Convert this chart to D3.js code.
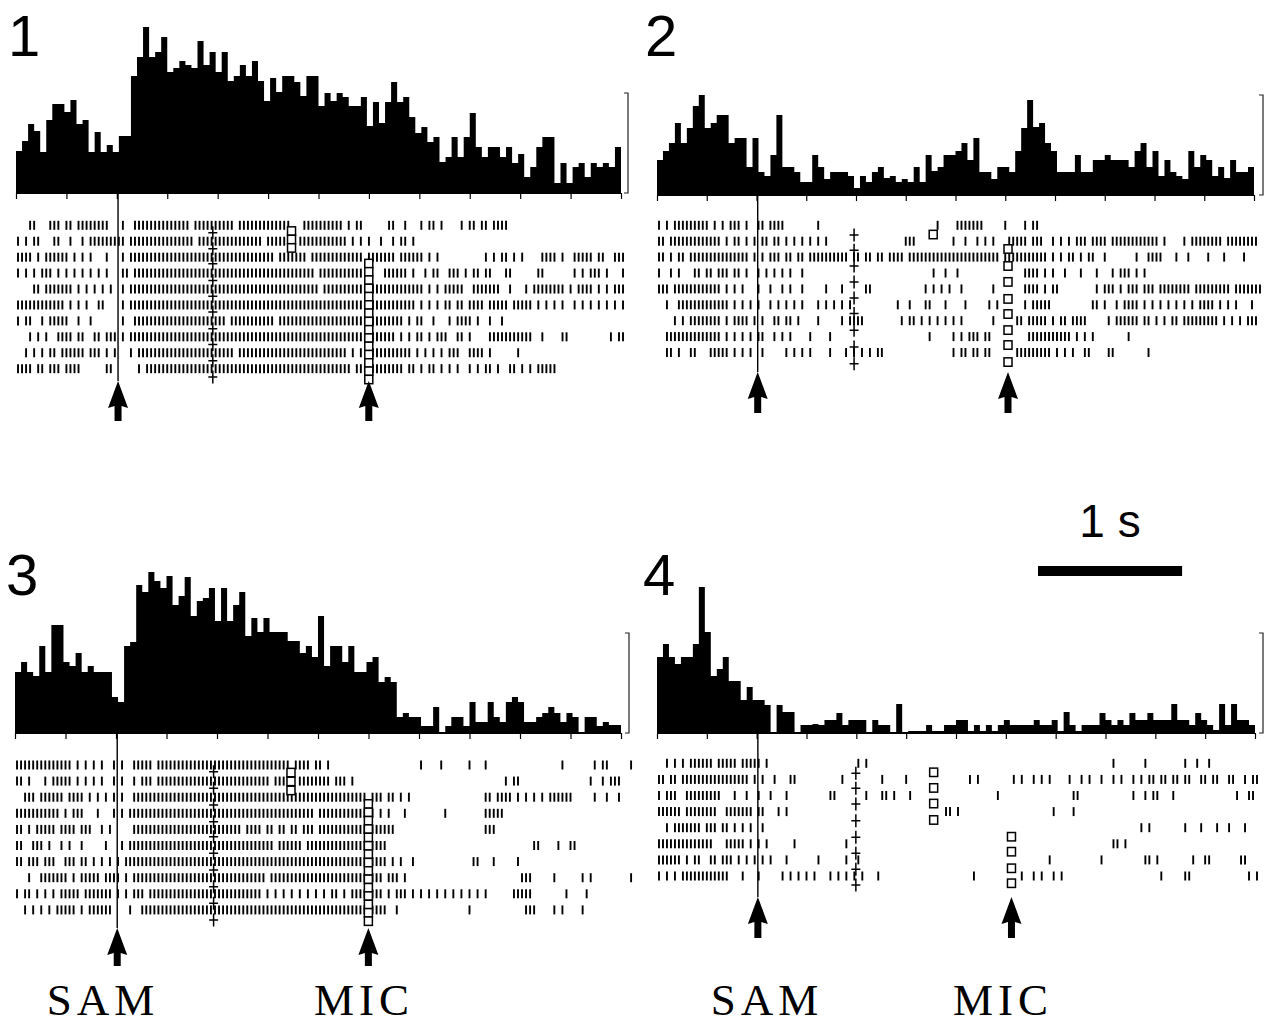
<!DOCTYPE html>
<html lang="en">
<head>
<meta charset="UTF-8">
<title>PSTH and raster, four conditions</title>
<script src="https://d3js.org/d3.v7.min.js"></script>
<style>
  body { margin: 0; background: #fff; }
  svg { display: block; background: #fff; }
  .num { font-family: "Liberation Sans", Arial, sans-serif; font-size: 58px; fill: #000; }
  .lbl { font-family: "Liberation Serif", "Times New Roman", serif; font-size: 45px; fill: #000; letter-spacing: 5px; }
  .scale-txt { font-family: "Liberation Sans", Arial, sans-serif; font-size: 46px; fill: #000; }
</style>
</head>
<body>
<svg id="chart" width="1264" height="1026"></svg>
<script>
// ---------- data ----------
var T = 4.15;          // seconds shown in each panel
var nBins = 100;       // histogram bins per panel
var nCells = 150;      // raster strings: one char per cell of T / nCells

// histogram heights (bracket = 100)
var psth1 = [42,52,69,62,41,73,89,89,81,93, 69,73,41,61,41,48,41,57,57,117,
  136,166,136,141,156,121,125,132,128,125, 152,128,141,121,141,112,117,128,117,132,
  112,92,115,101,117,117,111,97,117,117, 87,100,92,100,96,87,87,96,67,91,
  70,91,111,91,96,76,60,66,51,56, 31,36,56,36,56,80,46,36,46,46,
  36,46,30,39,16,26,46,56,56,10, 30,10,26,30,16,30,26,30,26,46];
var psth2 = [35,44,52,72,52,67,89,100,67,72, 80,80,52,57,57,28,57,23,19,40,
  80,28,28,23,13,13,40,28,16,23, 23,23,19,7,19,13,23,28,17,19,
  13,16,13,28,13,40,24,28,40,40, 44,52,35,57,23,23,16,28,28,23,
  44,67,95,68,72,52,44,23,23,23, 40,23,23,35,35,40,35,35,35,28,
  44,52,28,44,19,35,23,19,16,44, 28,40,35,19,28,17,35,23,23,28];
var psth3 = [61,71,61,57,87,61,108,108,71,67, 80,61,67,61,61,61,36,31,87,91,
  148,141,161,152,145,157,128,137,156,117, 132,135,145,112,145,112,128,141,97,115,
  101,115,101,101,101,92,92,80,87,76, 117,67,87,87,71,87,61,61,71,76,
  51,56,51,16,20,16,16,7,7,26, 1,7,16,16,7,31,11,11,31,16,
  11,31,36,31,11,11,16,20,26,20, 11,20,16,1,16,16,7,11,8,8];
var psth4 = [76,89,76,69,76,76,89,146,101,57, 64,76,52,52,33,46,33,33,28,1,
  28,21,21,1,8,8,9,8,13,13, 20,8,13,13,13,1,13,8,8,1,
  29,1,2,2,2,8,2,2,8,8, 13,13,2,8,2,8,2,8,13,8,
  8,8,8,13,8,8,13,2,21,8, 2,8,8,8,20,13,8,13,8,20,
  13,13,20,13,13,13,29,13,13,8, 20,13,8,3,29,8,29,13,13,8];

// event times (s): SAM onset, "+" marker, early and late square markers, MIC onset
var samTimes  = [0.70, 0.70, 0.70, 0.70];
var plusTimes = [1.35, 1.37, 1.36, 1.38];
var sqEarlyTimes = [1.89, 1.92, 1.89, 1.92];
var micTimes  = [2.42, 2.44, 2.42, 2.46];

// marker positions in trial units (row 0 = first trial)
var plus1 = [0.46,1.47,2.41,3.46,4.46,5.44,6.49,7.49,8.51,9.52];
var plus2 = [0.61,1.57,2.56,3.57,4.57,5.55,6.6,7.65,8.7];
var plus3 = [0.42,1.45,2.48,3.52,4.45,5.48,6.52,7.56,8.59,9.63];
var plus4 = [0.62,1.55,2.53,3.57,4.6,5.59,6.58,7.56];
var sqEarly1 = [0.36,0.89,1.42];
var sqEarly2 = [0.58];
var sqEarly3 = [0.47,1.02,1.58];
var sqEarly4 = [0.56,1.53,2.5,3.52];
var sqLate1 = [2.40,2.92,3.44,3.96,4.48,5.0,5.52,6.04,6.56,7.08,7.6,8.12,8.64,9.16,9.68];
var sqLate2 = [1.49,2.56,3.56,4.63,5.58,6.59,7.53,8.6];
var sqLate3 = [2.42,2.94,3.46,3.98,4.5,5.02,5.54,6.06,6.58,7.1,7.62,8.14,8.66,9.18,9.7];
var sqLate4 = [4.56,5.49,6.52,7.45];

// spike rasters, '|' = spike (groups of 10 cells for readability)
var raster1 = [
"...||...|| |.||.||||| |||...|..| |||||||||| |||.|||||| ||||.||||| ||||||||.. .||||||||| |.|.||.... ..||..|... |.||.|.... |.||.||.|| ||........",
"|.|.||...| |..|..|.|| |||||||.|| |||||||||| ||||.||||| |||||||||| |.||||||.. |||||||||| ||.|.|.|.. |..|.||.|.",
"||||.|.||| |||.|.|.|. ..|...|.|| |||||||||| |||||||||| |||||||||| ||||.||||| ||.||||||| ||||||.||| ||||.||||| |.|.|..... ......|.|. ||.|.|.... ||||.|..|| |||.||..|| |..",
"|.|.|.|||. |.|.|.|.|. |.|...||.| |||||||||| |||||||||| |||||||||| |||||||||| ||||.||||| ||||||.|.. .||||||.|. .|.||..||| .|.||.||.. .||......| |.......|. |.|||.|... |..",
"....||.||| ||||.|.|.| .|.|..|.|| |||||||||| |||||||||| |||||||||| |||||||||| |||||.|||| |||||||||| |||||||||| |.|.|.|||| |..||||||| ..|...|.|| ||||||.|.| |||.|.|.|| |..",
"|||||||||| ||.|.|.|.. ||....|.|| |||||||||| |||||||||| |||||||||| |||||||||| |||||||||| |||||||||| |||||||||. |.|.|.||.| |.||||.||| ||.|||||.| .|.|.|..|. |.|.|.|.|. |..",
"|.||..|.|| |||..|..|. ......|..| |||||||||| |||||||||| ||.||||||| ||||.||||| |||||||||| |||||||||| ||||||.|.| |..|...|.| |||.|..|.. |.........",
"...|.|.|.. ||||.||..| |.|||.|.|| |||||||||| |||||||||| |||||||||| |||||||||| |||||||||| |||||||||| ||||.|.|.| |.|.|||..| |.|....||| ||||||||.. |....||... .......|.| |..",
"..|.|.|.|| .||||||.|| |.|.|...|. |||||||||| |||||||||| ||||.||||| |||||||||| |||||||||| ||.|.|.||| ||||||||.| .|.|.|.||| ..||||.|.. ....|.....",
"||||.||.|| |.||||.... ..||...... |.|||||||| |||||||||| |||||||||| |||||||||| |||||||||| |||.|||||| ||||||.||. |.||.|.|.| ..|.|.||.| ..||.|.|.| ||||......"
];
var raster2 = [
"|.|.|||||| |||.|.|.|| |.|..||.|| ||........ |......... .......... .......... |....||||| ||.....|.. ..|.||....",
"||.||||||| ||||||.|.| |.|.|.||.| |.|.|.|.|. |.|....... .......... ..|||..... ....|..|.. |.|.|...|| |||.|||..| .|.|.|||.| |||.|||||| ||||||.|.. ..|.|||||| ||.||||||| |..",
"||.|.||.|| |||||||||| |||.|.|.|| |.||.||.|| ||||||||.| |.||.||.|| ||.||||||| |||||||||| ||||||.||| ||||||||.| .|.||.|.|| ..|....... |..||||... |..|....|. ..|....|..",
"|..|.|...| |.||.|||.| |.|..|.|.| .|.|..|... .......... .......... .........| ..|..|.... .......... ..||||.|.| ..|...|... |...|.|||. |.|.......",
"|||.|||||| ||||||.|.| .|...|..|. .|.|..|... ..|...|... ..||...... .......|.| .|.|..|... ....|..... ..||||.|.| |......... |.|||.|.|| |.|||.|||| ||||.||||| ||||.||||| ||.",
"..|..||||| ||||||||.| .|.|.|..|. |.|.|.|... |.|.|.|.|. .......... |..|...||. ..|....|.. ...|.|.... ..|.|||||. .........| |.|..|.||| |.|.|.|.|. |.|.|.|||| .|.|.|...|",
"....|.|.|| ||||||.|.| |||.|.|..| |.||.|.... |.....|.|| ||........ .|.||.|.|. |.|.|.|... ....|..... ||.|||||.| .||.||||.. ...|.||||| |.||.|.|.| |.|||||||| |.|.|.|.|| |..",
"..|||||||| ||||||.|.| .|.|.||..| .|.|....|. ...|...... .......... ........|. ....|.|.|| |.||...... ...||||||| ||||.|.|.| ........|.",
"..||.|..|| ...|||||.| .|.|..|... ..|.|.|.|. ...|...|.| .|.|.||... .......... ....|.||.| |.||...... |||||||||. |.|.|..||. ...||..... ...|......"
];
var raster3 = [
"|||||||||| ||||.|.|.| .|..|.|..| ||||.||||| |||||||||| |||||||||| ||||||||.| |||.||.|.. .......... .......... |....|.... ..|...|... .......... .....|.... ...|.||... ..|",
"||.|...|.| ||||.|.|.| .|..|.|..| .|||.||||| |||||||||| |||||||||| |||.|||||. ||||||||.| ||.|...... .......... .......... .......... .|.||..... .......... ..|..|.|||",
"..|||.|||| ||.||||.|. |.|.|.|..| |||||||||| |||||||||| |||||||||| |||||||||| |||||||||| |||||||.|| |.||.|.|.. .......... ......||.| |||.|.|.|. |.||||||.. ...|..|..|",
"|||||||||| |.|.|||... |...|.|.|| |||||||||| |||||||||| |||||||||| |||||||||| ||||.||||| |||||||||. |.|...|... ......|... ......|||| |.........",
"||.|.||||| .||||.|||. .|.|.....| |||||||||| |||||||||| ||||||.||| |.||.||.|| .|||.||||| |||||||||| ||||...... .......... ......|||.",
"||..|||.|. .|.|..|... ..|...|.|| |||||||||| |||||||||| |||||||||| ||||.||||| |.|||||||| |||||||||| ||........ .......... .......... ........|| ....|..||.",
"||.|||.||| ..|||.||.| .|.|.|.||| |||||||||| |||||||||| |||||||||| |||||||||| |||||||||| |||||||||| ||.|.|..|. .......... ...||...|. ....|.....",
"...|..|||| |||.|.|||| |.||||.|.| |||||||||| |||||||||| |||||||||| ||.||||||| |||||||||| |||||||||| |.|||.|... .......... .......... .....|||.. ...|...... |.|....... ..|",
"|.||.|.|.| .|||||.||| ||||.|.|.| ||.||||||| |||||||||| |||||||||| |.|.|.|.|. |.|.|.|.|| .|.||||||| |.|.|||.|. |.|.|.|.|. |.|.|.|... ...|||||.. ......|... .|........",
"..|.|.|.|. |||||.|.|| ||||....|. .||||||||| |||||||||| |||||||||| |||||||||| |||||||||| |||||||||| ||..|..... .......... ..|....... ......|||. ...|.|.... |........."
];
var raster4 = [
"..|.|.|.|| ||||.||||| .|||||.|.. .......... .......... |.|....... .......... .......... .......... .......... .......... ....|..... ..|....... ..|..|..|.",
"||.||.|||| |||||||||| |||.|.|..| ...||..... ......|... ......|... ..|....... ........|. |........| .|..|.|.|. ...|..|.|. .|..|.|..| .|.||.||.| |.||..||.| |..||..|.| |..",
"|.|||..||| ||||||...| ..|..|..|. ..|....... ...||..... ..|...||.| ...|...... .......... .....|.... .......... ....||.... .........| ..|.||...| .......... .....|..||",
"||||||.||| |||||..||| ||||.||... |.|....... .......... .......... .......... ..||.|.... .......... .........| ....|.....",
"..|.|||||| |.|||.||.| .|.|..|... .......... .......... .......... .......... .......... .......... .......... .......... .......... .|.|...... ..|...|... |..|...|..",
"|||||||||| ||||...||| ||.|.|.|.. ....|..... .......|.. .......... .......... .......... .......... .......... .......... ....||.|..",
"||||||.|.| |..||.|||. |.|.|.|.|. ..|....... |......|.. |......... .......... .......... .......... ........|. .......... .|........ ..||.|.... ....|..||. ......||..",
"|.|.|.|||| ||||||||.. .|...|.... .|.|.|.|.| ...|.|.|.| .|...|.... .......... .........| .......... .|..|.|..| .|........ .......... ......|... ..||...... ........|. |.."
];

// ---------- layout ----------
var panels = [
  {name: "1", psth: psth1, raster: raster1, plus: plus1, sqE: sqEarly1, sqL: sqLate1,
   x0: 16, x1: 621, base: 193, rowY0: 225.3, rowStep: 15.93, bracketX: 628,
   tipY: 381, botY: 421, numX: 8, numY: 56},
  {name: "2", psth: psth2, raster: raster2, plus: plus2, sqE: sqEarly2, sqL: sqLate2,
   x0: 657, x1: 1254, base: 195, rowY0: 225.3, rowStep: 15.9, bracketX: 1263,
   tipY: 372, botY: 413, numX: 645, numY: 56},
  {name: "3", psth: psth3, raster: raster3, plus: plus3, sqE: sqEarly3, sqL: sqLate3,
   x0: 15, x1: 621, base: 733, rowY0: 765, rowStep: 16.1, bracketX: 629,
   tipY: 928, botY: 966, numX: 6, numY: 595},
  {name: "4", psth: psth4, raster: raster4, plus: plus4, sqE: sqEarly4, sqL: sqLate4,
   x0: 657, x1: 1255, base: 733, rowY0: 763.3, rowStep: 16.1, bracketX: 1263,
   tipY: 897, botY: 938, numX: 643, numY: 595}
];

var svg = d3.select("#chart");
var tickTimes = d3.range(13).map(function(i) { return i * T / 12; });

panels.forEach(function(p, k) {
  var g = svg.append("g");
  var x = d3.scaleLinear().domain([0, T]).range([p.x0, p.x1]);
  var y = d3.scaleLinear().domain([0, 100]).range([p.base, p.base - 100]);
  var trial = d3.scaleLinear().domain([0, 1]).range([p.rowY0, p.rowY0 + p.rowStep]);
  var binW = T / nBins;

  // histogram as a filled step area
  var pts = p.psth.map(function(v, i) { return {t: i * binW, v: v}; });
  pts.push({t: T, v: p.psth[p.psth.length - 1]});
  var area = d3.area()
      .x(function(d) { return x(d.t); })
      .y0(y(0))
      .y1(function(d) { return y(d.v); })
      .curve(d3.curveStepAfter);
  g.append("path").datum(pts).attr("d", area).attr("fill", "#000");

  // time axis under the histogram
  var axis = g.append("g")
      .attr("transform", "translate(0," + p.base + ")")
      .call(d3.axisBottom(x).tickValues(tickTimes).tickSize(6).tickSizeOuter(0).tickFormat(""));
  axis.select(".domain").attr("stroke", "#000").attr("stroke-width", 1.2);
  axis.selectAll(".tick line").attr("stroke", "#000").attr("stroke-width", 1.2);

  // scale bracket on the right
  var bx = p.bracketX;
  g.append("path")
      .attr("d", "M" + (bx - 4) + "," + y(100) + "H" + bx + "V" + y(0) + "H" + (bx - 4))
      .attr("fill", "none").attr("stroke", "#222").attr("stroke-width", 1.2);

  // SAM onset line
  var sx = x(samTimes[k]);
  g.append("line")
      .attr("x1", sx).attr("x2", sx)
      .attr("y1", p.base).attr("y2", p.tipY)
      .attr("stroke", "#000").attr("stroke-width", 1.4);

  // raster ticks
  var cellDur = T / nCells;
  p.raster.forEach(function(row, r) {
    var cells = row.replace(/ /g, "");
    var spikes = [];
    for (var i = 0; i < cells.length; i++) {
      if (cells[i] === "|") spikes.push((i + 0.5) * cellDur);
    }
    g.selectAll(null).data(spikes).enter().append("line")
        .attr("x1", function(d) { return x(d); })
        .attr("x2", function(d) { return x(d); })
        .attr("y1", trial(r) - 4.5)
        .attr("y2", trial(r) + 4.5)
        .attr("stroke", "#000")
        .attr("stroke-width", 1.9);
  });

  // "+" markers
  var px = x(plusTimes[k]);
  g.selectAll(null).data(p.plus).enter().append("path")
      .attr("d", function(d) {
        var cy = trial(d);
        return "M" + (px - 4.5) + "," + cy + "H" + (px + 4.5) +
               "M" + px + "," + (cy - 6.5) + "V" + (cy + 6.5);
      })
      .attr("stroke", "#000").attr("stroke-width", 1.5).attr("fill", "none");

  // square markers
  function squares(list, t) {
    var cx = x(t);
    g.selectAll(null).data(list).enter().append("rect")
        .attr("x", cx - 4)
        .attr("y", function(d) { return trial(d) - 4.2; })
        .attr("width", 8)
        .attr("height", 8.4)
        .attr("fill", "#fff")
        .attr("stroke", "#000")
        .attr("stroke-width", 1.5);
  }
  squares(p.sqE, sqEarlyTimes[k]);
  squares(p.sqL, micTimes[k]);

  // arrows under SAM and MIC onsets
  function arrow(ax) {
    var t = p.tipY, b = p.botY, h = 27;
    g.append("path")
        .attr("d", "M" + ax + "," + t +
                   "L" + (ax + 10) + "," + (t + h) +
                   "L" + (ax + 3.5) + "," + (t + h - 2) +
                   "L" + (ax + 3.5) + "," + b +
                   "L" + (ax - 3.5) + "," + b +
                   "L" + (ax - 3.5) + "," + (t + h - 2) +
                   "L" + (ax - 10) + "," + (t + h) + "Z")
        .attr("fill", "#000");
  }
  arrow(sx);
  arrow(x(micTimes[k]));

  // panel number
  g.append("text").attr("class", "num")
      .attr("x", p.numX).attr("y", p.numY).text(p.name);
});

// bottom labels
var bottomLabels = [
  {text: "SAM", x: 103}, {text: "MIC", x: 364},
  {text: "SAM", x: 767}, {text: "MIC", x: 1003}
];
svg.selectAll(".lbl").data(bottomLabels).enter().append("text")
    .attr("class", "lbl")
    .attr("x", function(d) { return d.x; })
    .attr("y", 1015)
    .attr("text-anchor", "middle")
    .text(function(d) { return d.text; });

// 1 s scale bar (uses the bottom-right panel's time scale)
var xs = d3.scaleLinear().domain([0, T]).range([panels[3].x0, panels[3].x1]);
var barLen = xs(1) - xs(0);
svg.append("rect").attr("x", 1038).attr("y", 566).attr("width", barLen).attr("height", 10).attr("fill", "#000");
svg.append("text").attr("class", "scale-txt")
    .attr("x", 1038 + barLen / 2).attr("y", 537)
    .attr("text-anchor", "middle").text("1 s");
</script>
</body>
</html>
